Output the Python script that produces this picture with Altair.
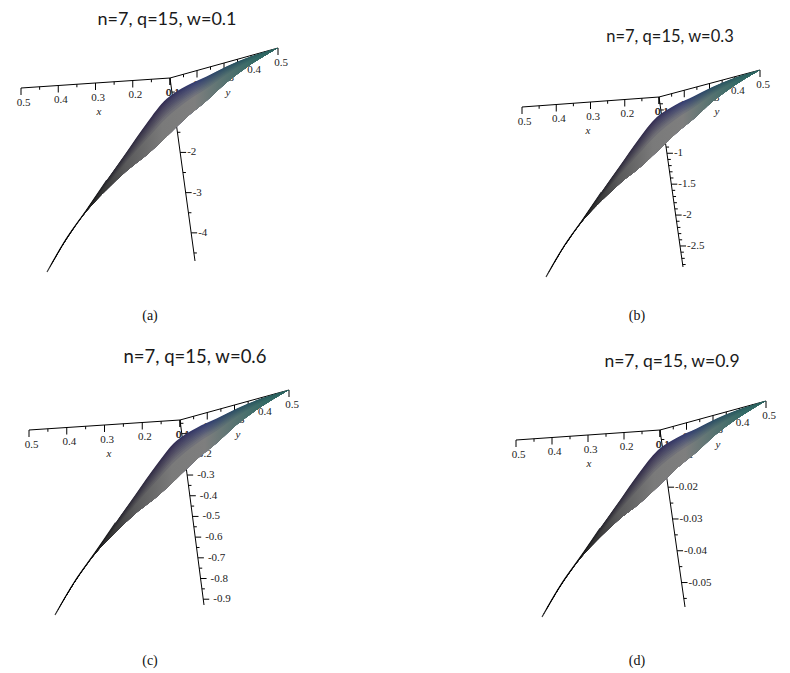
import altair as alt
import pandas as pd

# surface edges, in reference pixels x3
edge_x = [140, 200, 260, 320, 380, 440, 500, 560, 620, 680, 740, 800, 835]
edge_upper = [815, 713, 628, 540, 455, 370, 297, 258, 230, 200, 175, 155, 145]
edge_lower = [815, 715, 632, 568, 512, 465, 410, 352, 303, 248, 203, 165, 145]
spine_count = 4

band_weights = [0, .03, .06, .09, .12, .16, .2, .25, .3, .36, .42, .5, .58, .66, .75, .85]
stop_offsets = [0, .2, .34, .5, .64, .78, .9, 1]
upper_colors = ["#0c0c0c", "#1c1c1e", "#2c2838", "#332c52", "#333c72", "#284e62", "#27595c", "#265c5a"]
lower_colors = ["#0c0c0c", "#262626", "#59595a", "#7a7a7a", "#7e7e7e", "#547270", "#336a66", "#2a625e"]

x_major = [0.1, 0.2, 0.3, 0.4, 0.5]
xy_minor = [0.15, 0.25, 0.35, 0.45]

panels = [
    dict(title="n=7, q=15, w=0.1", tx=167, ty=20, ts=18, cap="(a)", cx=150, cy=316, zdx=7,
         o=(170, 78), xe=(21, 88), ye=(278, 48), ze=(195, 261), tip=(47, 272),
         zr=(-0.15, -4.7), zmaj=[-1, -2, -3, -4], zlab=["-1", "-2", "-3", "-4"],
         zmin=[-0.5, -1.5, -2.5, -3.5, -4.5]),
    dict(title="n=7, q=15, w=0.3", tx=670, ty=37, ts=16.5, cap="(b)", cx=637, cy=316, zdx=7,
         o=(659, 97), xe=(522, 107), ye=(760, 70), ze=(683, 267), tip=(546, 277),
         zr=(-0.09, -2.84), zmaj=[-0.5, -1, -1.5, -2, -2.5], zlab=["-0.5", "-1", "-1.5", "-2", "-2.5"],
         zmin=[-.2, -.3, -.4, -.6, -.7, -.8, -.9, -1.1, -1.2, -1.3, -1.4, -1.6, -1.7, -1.8, -1.9,
               -2.1, -2.2, -2.3, -2.4, -2.6, -2.7, -2.8]),
    dict(title="n=7, q=15, w=0.6", tx=195, ty=357, ts=18.5, cap="(c)", cx=150, cy=661, zdx=10,
         o=(180, 420), xe=(29, 430), ye=(289, 390), ze=(204, 605), tip=(55, 615),
         zr=(-0.034, -0.928), zmaj=[-.1, -.2, -.3, -.4, -.5, -.6, -.7, -.8, -.9],
         zlab=["-0.1", "-0.2", "-0.3", "-0.4", "-0.5", "-0.6", "-0.7", "-0.8", "-0.9"],
         zmin=[-.05, -.15, -.25, -.35, -.45, -.55, -.65, -.75, -.85]),
    dict(title="n=7, q=15, w=0.9", tx=672, ty=362, ts=17.5, cap="(d)", cx=637, cy=661, zdx=7,
         o=(660, 430), xe=(516, 440), ye=(766, 401), ze=(685, 607), tip=(542, 617),
         zr=(-0.002, -0.0577), zmaj=[-.01, -.02, -.03, -.04, -.05],
         zlab=["-0.01", "-0.02", "-0.03", "-0.04", "-0.05"],
         zmin=[-.005, -.015, -.025, -.035, -.045, -.055]),
]

SERIF = "'Liberation Serif', 'Times New Roman', serif"
X = alt.Scale(domain=[8, 782], nice=False, zero=False)
Y = alt.Scale(domain=[672, 8], nice=False, zero=False)


def enc(**extra):
    return dict(x=alt.X("x:Q", scale=X, axis=None), y=alt.Y("y:Q", scale=Y, axis=None), **extra)


def mix(a, b, t):
    pa = [int(a[i:i + 2], 16) for i in (1, 3, 5)]
    pb = [int(b[i:i + 2], 16) for i in (1, 3, 5)]
    return "#%02x%02x%02x" % tuple(round(p + (q - p) * t) for p, q in zip(pa, pb))


def along(a, b, v, lo=0.1, hi=0.5):
    f = (v - lo) / (hi - lo)
    return a[0] + (b[0] - a[0]) * f, a[1] + (b[1] - a[1]) * f


layers = []
rules, labels, zlabels, names, titles, captions = [], [], [], [], [], []
for p in panels:
    o = p["o"]
    rules.append(dict(x=o[0], y=o[1], x2=p["xe"][0], y2=p["xe"][1]))
    rules.append(dict(x=o[0], y=o[1], x2=p["ye"][0], y2=p["ye"][1]))
    rules.append(dict(x=o[0], y=o[1], x2=p["ze"][0], y2=p["ze"][1]))
    for end, dx, nm, off in ((p["xe"], 2.5, "x", (-71, 34)), (p["ye"], 3, "y", (58, 15))):
        for v in x_major:
            a, b = along(o, end, v)
            rules.append(dict(x=a, y=b, x2=a, y2=b + 7))
            labels.append(dict(x=a + dx, y=b + 14.5, t=f"{v:.1f}"))
        for v in xy_minor:
            a, b = along(o, end, v)
            rules.append(dict(x=a, y=b, x2=a, y2=b + 3))
        names.append(dict(x=o[0] + off[0], y=o[1] + off[1], t=nm))
    for v, t in zip(p["zmaj"], p["zlab"]):
        a, b = along(o, p["ze"], v, p["zr"][0], p["zr"][1])
        rules.append(dict(x=a, y=b, x2=a + 6, y2=b))
        zlabels.append(dict(x=a + p["zdx"], y=b, t=t))
    for v in p["zmin"]:
        a, b = along(o, p["ze"], v, p["zr"][0], p["zr"][1])
        rules.append(dict(x=a, y=b, x2=a + 3, y2=b))
    titles.append(dict(x=p["tx"], y=p["ty"], t=p["title"], s=p["ts"]))
    captions.append(dict(x=p["cx"], y=p["cy"], t=p["cap"]))

layers.append(alt.Chart(pd.DataFrame(rules)).mark_rule(color="#000000", strokeWidth=1).encode(
    **enc(x2="x2:Q", y2="y2:Q")))
layers.append(alt.Chart(pd.DataFrame(labels)).mark_text(
    font=SERIF, fontSize=11, color="#222222", align="center", baseline="middle").encode(
    **enc(text="t:N")))
layers.append(alt.Chart(pd.DataFrame(zlabels)).mark_text(
    font=SERIF, fontSize=11, color="#222222", align="left", baseline="middle").encode(
    **enc(text="t:N")))

for p in panels:
    tx, ty = p["tip"]
    ex, ey = p["ye"]
    fx = [(v - edge_x[0]) / (edge_x[-1] - edge_x[0]) for v in edge_x]
    fu = [(edge_upper[0] - v) / (edge_upper[0] - edge_upper[-1]) for v in edge_upper]
    fl = [(edge_upper[0] - v) / (edge_upper[0] - edge_upper[-1]) for v in edge_lower]
    xs = [tx + (ex - tx) * f for f in fx]
    up = [ty + (ey - ty) * f for f in fu]
    lw = [ty + (ey - ty) * f for f in fl]
    for w in band_weights:
        t = min(1.0, w * 2.0)
        stops = [alt.GradientStop(offset=s, color=mix(a, b, t))
                 for s, a, b in zip(stop_offsets, upper_colors, lower_colors)]
        df = pd.DataFrame(dict(x=xs, y=[u + (l - u) * w for u, l in zip(up, lw)], y2=lw))
        layers.append(alt.Chart(df).mark_area(
            interpolate="catmull-rom",
            color=alt.Gradient(gradient="linear", x1=0, x2=1, y1=0, y2=0, stops=stops)).encode(
            **enc(y2="y2:Q")))
    spine = pd.DataFrame(dict(x=xs[:spine_count], y=up[:spine_count]))
    layers.append(alt.Chart(spine).mark_line(
        interpolate="catmull-rom", strokeWidth=1.2,
        stroke=alt.Gradient(gradient="linear", x1=0, x2=1, y1=0, y2=0, stops=[
            alt.GradientStop(offset=0, color="#444444"), alt.GradientStop(offset=.1, color="#000000"),
            alt.GradientStop(offset=.7, color="#101010"), alt.GradientStop(offset=1, color="#2a2a30")])).encode(**enc()))

layers.append(alt.Chart(pd.DataFrame(names)).mark_text(
    font=SERIF, fontSize=11, fontStyle="italic", color="#222222", align="center", baseline="middle").encode(
    **enc(text="t:N")))
layers.append(alt.Chart(pd.DataFrame(titles)).mark_text(
    font="Lato", color="#1a1a1a", align="center", baseline="middle").encode(
    **enc(text="t:N", size=alt.Size("s:Q", scale=None, legend=None))))
layers.append(alt.Chart(pd.DataFrame(captions)).mark_text(
    font=SERIF, fontSize=14, color="#111111", align="center", baseline="middle").encode(
    **enc(text="t:N")))

chart = alt.layer(*layers).properties(
    width=774, height=664, padding=0, autosize=alt.AutoSizeParams(type="none"), background="#ffffff"
).configure_view(stroke=None)

chart.save("out.html", embed_options={"renderer": "svg", "actions": False})
